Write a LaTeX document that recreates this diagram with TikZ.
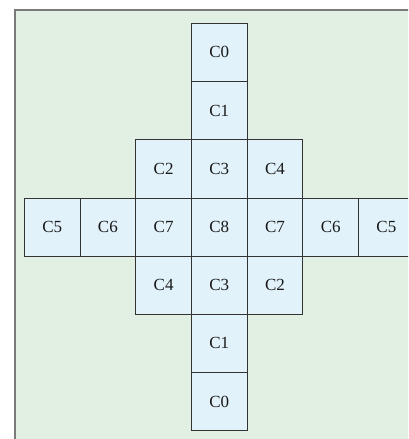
\documentclass[tikz,border=0pt]{standalone}
\usepackage{fontspec}
\setmainfont{Liberation Serif}
\definecolor{panelgreen}{HTML}{E2F0E4}
\definecolor{cellblue}{HTML}{E1F2FA}
\definecolor{panelrim}{HTML}{7A7A7A}
\definecolor{cellrim}{HTML}{333333}

\begin{document}
\begin{tikzpicture}[x=1pt,y=-1pt,
	every node/.style={font=\fontsize{17}{17}\selectfont, text=black!90},
	cell/.style={draw=cellrim, line width=0.8pt, fill=cellblue, rectangle,
		minimum width=55.7pt, minimum height=58.2pt, inner sep=0pt, outer sep=0pt}]
	\useasboundingbox (0,0) rectangle (408,439);
	\clip (0,0) rectangle (408,439);
	\fill[panelgreen] (15,10) rectangle (430,450);
	\draw[panelrim, line width=1.5pt] (15,450) -- (15,10) -- (430,10);
	\node[cell] (c0top) at (219.3,52.4) {C0};
	\node[cell] (c1top) at (219.3,110.6) {C1};
	\node[cell] (c2top) at (163.6,168.8) {C2};
	\node[cell] (c3top) at (219.3,168.8) {C3};
	\node[cell] (c4top) at (275.0,168.8) {C4};
	\node[cell] (c5left) at (52.2,227.0) {C5};
	\node[cell] (c6left) at (107.9,227.0) {C6};
	\node[cell] (c7left) at (163.6,227.0) {C7};
	\node[cell] (c8) at (219.3,227.0) {C8};
	\node[cell] (c7right) at (275.0,227.0) {C7};
	\node[cell] (c6right) at (330.7,227.0) {C6};
	\node[cell] (c5right) at (386.4,227.0) {C5};
	\node[cell] (c4bot) at (163.6,285.2) {C4};
	\node[cell] (c3bot) at (219.3,285.2) {C3};
	\node[cell] (c2bot) at (275.0,285.2) {C2};
	\node[cell] (c1bot) at (219.3,343.4) {C1};
	\node[cell] (c0bot) at (219.3,401.6) {C0};
\end{tikzpicture}
\end{document}
